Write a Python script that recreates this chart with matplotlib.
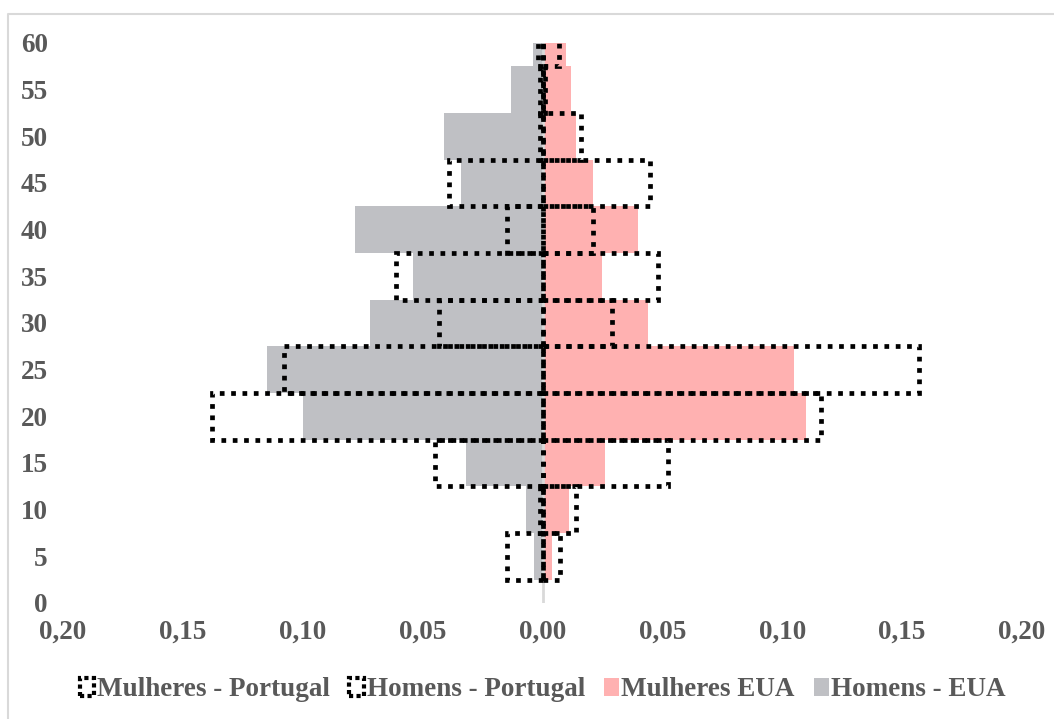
import matplotlib.pyplot as plt
from matplotlib.patches import Patch
from matplotlib.lines import Line2D

# faixas etarias (centro de cada barra)
idades = [5, 10, 15, 20, 25, 30, 35, 40, 45, 50, 55, 60]

# EUA
homens_eua = [-0.0035, -0.007, -0.032, -0.100, -0.115, -0.072, -0.054, -0.078, -0.034, -0.041, -0.013, -0.004]
mulheres_eua = [0.004, 0.011, 0.026, 0.110, 0.105, 0.044, 0.025, 0.040, 0.021, 0.014, 0.012, 0.010]

# Portugal
homens_pt = [-0.015, -0.001, -0.045, -0.138, -0.108, -0.043, -0.061, -0.015, -0.039, -0.001, -0.001, -0.002]
mulheres_pt = [0.0075, 0.014, 0.0525, 0.116, 0.157, 0.029, 0.048, 0.021, 0.045, 0.016, 0.001, 0.007]

x_ticks = [-0.2, -0.15, -0.1, -0.05, 0, 0.05, 0.1, 0.15, 0.2]
x_labels = ['0,20', '0,15', '0,10', '0,05', '0,00', '0,05', '0,10', '0,15', '0,20']
y_ticks = list(range(0, 61, 5))

rosa = '#ffb1b1'
cinza = '#bfc0c4'
texto = '#595959'
pontilhado = (0, (1.0, 1.4))

plt.rcParams['font.family'] = ['Liberation Serif', 'DejaVu Serif']
plt.rcParams['font.weight'] = 'bold'

fig = plt.figure(figsize=(10.54, 7.19), dpi=100)
ax = fig.add_axes([63 / 1054, 1 - 603 / 719, (1022 - 63) / 1054, (603 - 43) / 719])

# barras EUA (preenchidas)
ax.barh(idades, mulheres_eua, height=5, color=rosa, zorder=1)
ax.barh(idades, homens_eua, height=5, color=cinza, zorder=1)

# linha do zero
ax.axvline(0, color='#d9d9d9', lw=2, zorder=2)

# barras Portugal (so contorno pontilhado)
ax.barh(idades, mulheres_pt, height=5, fill=False, edgecolor='black',
        lw=3.4, linestyle=pontilhado, zorder=3)
ax.barh(idades, homens_pt, height=5, fill=False, edgecolor='black',
        lw=3.4, linestyle=pontilhado, zorder=3)

ax.set_xlim(-0.2, 0.2)
ax.set_ylim(0, 60)
ax.set_xticks(x_ticks)
ax.set_xticklabels(x_labels)
ax.set_yticks(y_ticks)
ax.tick_params(length=0, labelsize=19.5, labelcolor=texto)
ax.tick_params(axis='y', pad=11)
ax.tick_params(axis='x', pad=12)
for s in ax.spines.values():
    s.set_visible(False)

handles = [
    Patch(facecolor='white', edgecolor='black', lw=3, linestyle=(0, (1, 0.8))),
    Patch(facecolor='white', edgecolor='black', lw=3, linestyle=(0, (1, 0.8))),
    Patch(facecolor=rosa),
    Patch(facecolor=cinza),
]
nomes = ['Mulheres - Portugal', 'Homens - Portugal', 'Mulheres EUA', 'Homens - EUA']
leg = fig.legend(handles, nomes, loc='center', bbox_to_anchor=(0.515, 1 - 690 / 719),
                 ncol=4, frameon=False, fontsize=19.5, handlelength=0.55,
                 handleheight=0.6, handletextpad=0.1, columnspacing=0.7)
for t in leg.get_texts():
    t.set_color(texto)

# borda da area do grafico
fig.add_artist(Line2D([8 / 1054, 8 / 1054, 1.0], [0, 1 - 14 / 719, 1 - 14 / 719],
                      transform=fig.transFigure, color='#d9d9d9', lw=1.5))

fig.savefig('out.png', dpi=100)
